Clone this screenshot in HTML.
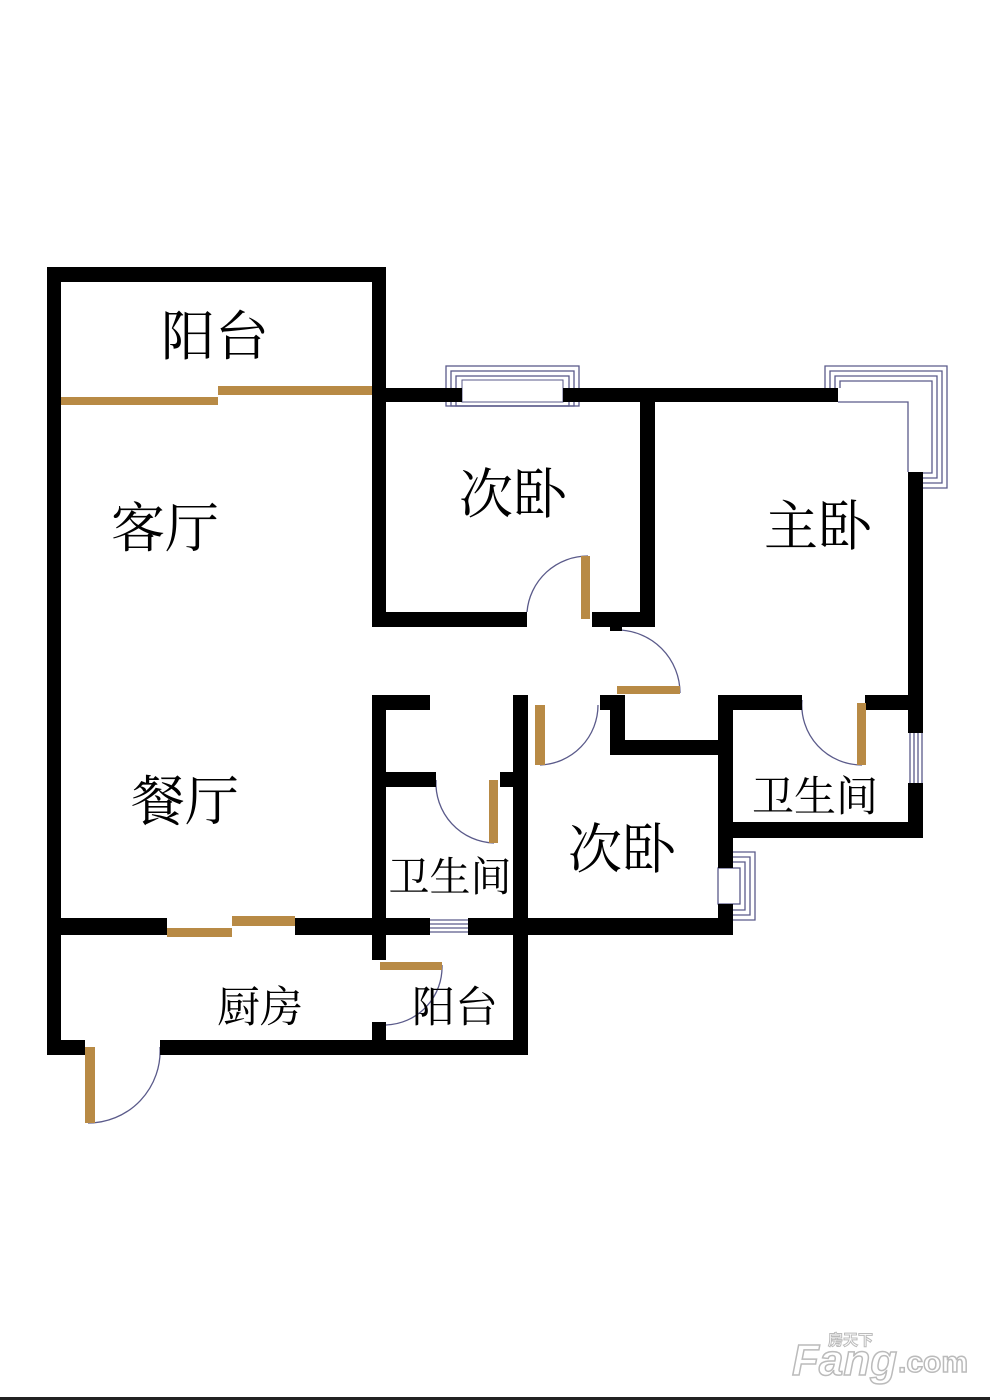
<!DOCTYPE html>
<html><head><meta charset="utf-8"><style>
html,body{margin:0;padding:0;background:#fff;width:990px;height:1400px;overflow:hidden}
svg{display:block}
.lbl{font-family:"Liberation Serif","Noto Serif CJK SC","Noto Sans CJK SC",serif;fill:#000}
</style></head><body>
<svg width="990" height="1400" viewBox="0 0 990 1400" xmlns="http://www.w3.org/2000/svg">
<rect width="990" height="1400" fill="#fff"/>
<g fill="none" stroke="#5a5a8a" stroke-width="1.3">
<rect x="446" y="366" width="133" height="40"/>
<rect x="451" y="371" width="123" height="35"/>
<rect x="456" y="376" width="113" height="30"/>
<path d="M825 388 V366 H947 V488 H923"/>
<path d="M830 388 V371 H942 V483 H923"/>
<path d="M835 388 V376 H937 V478 H923"/>
<path d="M840 388 V381 H932 V473 H923"/>
<path d="M838 402 H908 V472"/>
<path d="M910 733 V783 M914 733 V783 M918 733 V783 M922 733 V783"/>
<path d="M733 852 H755 V920 H733"/>
<path d="M733 857 H750 V915 H733"/>
<path d="M733 862 H745 V910 H733"/>
<rect x="718" y="868" width="22" height="36"/>
<path d="M430 920 H468 M430 924 H468 M430 928 H468 M430 932 H468"/>
<path d="M527 612 A61 61 0 0 1 588 556"/>
<path d="M617 630 A63 63 0 0 1 680 693"/>
<path d="M540 765 A60 60 0 0 0 598 705"/>
<path d="M802 700 A60 60 0 0 0 862 765"/>
<path d="M436 780 A60 60 0 0 0 494 843"/>
<path d="M442 965 A58 58 0 0 1 386 1025"/>
<path d="M88 1123 A72 72 0 0 0 160 1047"/>
</g>
<rect x="462" y="380" width="101" height="22" fill="#fff" stroke="#5a5a8a" stroke-width="1"/>
<g fill="#000">
<rect x="47" y="267" width="339" height="15"/>
<rect x="47" y="267" width="14" height="788"/>
<rect x="372" y="267" width="14" height="360"/>
<rect x="372" y="388" width="90" height="14"/>
<rect x="563" y="388" width="275" height="14"/>
<rect x="640" y="388" width="15" height="239"/>
<rect x="372" y="612" width="155" height="15"/>
<rect x="592" y="612" width="63" height="15"/>
<rect x="610" y="625" width="12" height="6"/>
<rect x="908" y="472" width="15" height="261"/>
<rect x="908" y="783" width="15" height="55"/>
<rect x="718" y="822" width="205" height="16"/>
<rect x="718" y="695" width="84" height="15"/>
<rect x="865" y="695" width="58" height="15"/>
<rect x="718" y="695" width="15" height="173"/>
<rect x="718" y="904" width="15" height="31"/>
<rect x="600" y="695" width="25" height="15"/>
<rect x="610" y="695" width="15" height="60"/>
<rect x="610" y="740" width="108" height="15"/>
<rect x="513" y="695" width="15" height="360"/>
<rect x="372" y="695" width="58" height="15"/>
<rect x="372" y="695" width="14" height="265"/>
<rect x="386" y="772" width="50" height="15"/>
<rect x="500" y="772" width="13" height="15"/>
<rect x="47" y="918" width="120" height="17"/>
<rect x="295" y="918" width="135" height="17"/>
<rect x="468" y="918" width="265" height="17"/>
<rect x="47" y="1040" width="38" height="15"/>
<rect x="160" y="1040" width="368" height="15"/>
<rect x="372" y="1022" width="14" height="33"/>
</g>
<g fill="#b88a45">
<rect x="61" y="397" width="157" height="8"/>
<rect x="218" y="386" width="154" height="9"/>
<rect x="581" y="556" width="9" height="63"/>
<rect x="617" y="686" width="63" height="8"/>
<rect x="535" y="705" width="10" height="60"/>
<rect x="857" y="703" width="9" height="62"/>
<rect x="489" y="780" width="9" height="63"/>
<rect x="167" y="928" width="65" height="9"/>
<rect x="232" y="916" width="63" height="10"/>
<rect x="380" y="962" width="62" height="8"/>
<rect x="85" y="1047" width="10" height="76"/>
</g>
<text class="lbl" x="215" y="355" font-size="54" text-anchor="middle">阳台</text>
<text class="lbl" x="165" y="547" font-size="54" text-anchor="middle">客厅</text>
<text class="lbl" x="513" y="513" font-size="54" text-anchor="middle">次卧</text>
<text class="lbl" x="818" y="545" font-size="54" text-anchor="middle">主卧</text>
<text class="lbl" x="185" y="820" font-size="54" text-anchor="middle">餐厅</text>
<text class="lbl" x="815" y="811" font-size="42" text-anchor="middle">卫生间</text>
<text class="lbl" x="450" y="891" font-size="41" text-anchor="middle">卫生间</text>
<text class="lbl" x="622" y="868" font-size="54" text-anchor="middle">次卧</text>
<text class="lbl" x="260" y="1022" font-size="43" text-anchor="middle">厨房</text>
<text class="lbl" x="455" y="1022" font-size="43" text-anchor="middle">阳台</text>
<text x="792" y="1375" font-size="44" font-weight="bold" font-style="italic" style="font-family:'Liberation Sans',sans-serif;fill:#fff;stroke:#bbb;stroke-width:1.5">Fang</text>
<text x="898" y="1372" font-size="30" font-weight="bold" style="font-family:'Liberation Sans',sans-serif;fill:#fff;stroke:#bbb;stroke-width:1.5">.com</text>
<text x="828" y="1345" font-size="15" font-weight="bold" style="font-family:'Liberation Sans','Noto Sans CJK SC',sans-serif;fill:#fff;stroke:#bbb;stroke-width:1">房天下</text>
<rect x="0" y="1397" width="990" height="3" fill="#222"/>
</svg>
</body></html>
